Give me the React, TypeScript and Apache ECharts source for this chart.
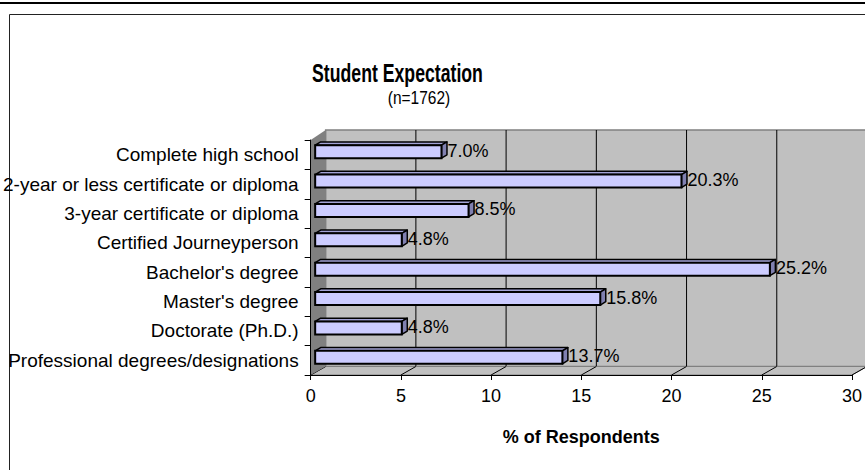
import React, { useEffect, useRef } from 'react';
import * as echarts from 'echarts';

const categories = [
  'Complete high school',
  '2-year or less certificate or diploma',
  '3-year certificate or diploma',
  'Certified Journeyperson',
  "Bachelor's degree",
  "Master's degree",
  'Doctorate (Ph.D.)',
  'Professional degrees/designations',
];
const values = [7.0, 20.3, 8.5, 4.8, 25.2, 15.8, 4.8, 13.7];
const valueTicks = [0, 5, 10, 15, 20, 25, 30];
const titleText = 'Student Expectation';
const subtitleText = '(n=1762)';
const axisTitle = '% of Respondents';

const FONT = '"Liberation Sans", Arial, Helvetica, sans-serif';
const WALL_DX = 15;
const WALL_DY = -10;
const BAR_OFF_X = 4.5;
const BAR_OFF_Y = -3;
const BAR_DX = 5.5;
const BAR_DY = -3.3;

export default function App() {
  const ref = useRef<HTMLDivElement>(null);

  useEffect(() => {
    if (!ref.current) return;
    const chart = echarts.init(ref.current, undefined, { renderer: 'svg' });
    const xMin = valueTicks[0];
    const xMax = valueTicks[valueTicks.length - 1];
    const step = valueTicks[1] - valueTicks[0];

    const option: any = {
      animation: false,
      backgroundColor: '#ffffff',
      grid: { left: 310, top: 140, width: 543, height: 235, containLabel: false },
      graphic: [
        { type: 'rect', shape: { x: 0, y: 2, width: 865, height: 2 }, style: { fill: '#000' } },
        {
          type: 'rect',
          shape: { x: 9.5, y: 14.5, width: 900, height: 500 },
          style: { fill: 'none', stroke: '#222', lineWidth: 1 },
        },
        {
          type: 'text',
          x: 397.5,
          y: 73,
          scaleX: 0.68,
          style: {
            text: titleText,
            fill: '#000',
            fontSize: 26,
            fontWeight: 'bold',
            fontFamily: FONT,
            textAlign: 'center',
            textVerticalAlign: 'middle',
          },
        },
        {
          type: 'text',
          x: 419,
          y: 98,
          scaleX: 0.86,
          style: {
            text: subtitleText,
            fill: '#000',
            fontSize: 18,
            fontFamily: FONT,
            textAlign: 'center',
            textVerticalAlign: 'middle',
          },
        },
      ],
      xAxis: {
        type: 'value',
        min: xMin,
        max: xMax,
        interval: step,
        position: 'bottom',
        z: 10,
        axisLine: { show: true, lineStyle: { color: '#000', width: 1 } },
        axisTick: { show: true, length: 5, lineStyle: { color: '#000', width: 1 } },
        axisLabel: { fontSize: 18, color: '#000', margin: 12, fontFamily: FONT },
        splitLine: { show: false },
        name: axisTitle,
        nameLocation: 'middle',
        nameGap: 53,
        nameTextStyle: { fontSize: 18, fontWeight: 'bold', color: '#000', fontFamily: FONT },
      },
      yAxis: {
        type: 'category',
        data: categories,
        inverse: true,
        z: 10,
        axisLine: { show: true, lineStyle: { color: '#000', width: 1 } },
        axisTick: { show: true, length: 6, lineStyle: { color: '#000', width: 1 } },
        axisLabel: {
          fontSize: 19,
          color: '#000',
          margin: 12,
          fontFamily: FONT,
          padding: [0, 0, 7, 0],
        },
        splitLine: { show: false },
      },
      series: [
        {
          type: 'custom',
          name: 'walls',
          z: 1,
          silent: true,
          data: [[xMin, 0]],
          encode: { x: 0, y: 1 },
          renderItem: (params: any, api: any) => {
            const band = api.size([0, 1])[1];
            const first = api.coord([xMin, 0]);
            const last = api.coord([xMax, categories.length - 1]);
            const x0 = first[0];
            const x1 = last[0];
            const top = first[1] - band / 2;
            const bottom = last[1] + band / 2;
            const bottomDY = WALL_DY + 1.5;
            const children: any[] = [];
            children.push({
              type: 'rect',
              shape: {
                x: x0 + WALL_DX,
                y: top + WALL_DY,
                width: x1 - x0,
                height: bottom + bottomDY - (top + WALL_DY),
              },
              style: { fill: '#c0c0c0', stroke: '#808080', lineWidth: 1.5 },
            });
            valueTicks.forEach((v) => {
              if (v === xMin) return;
              const px = api.coord([v, 0])[0] + WALL_DX;
              children.push({
                type: 'line',
                shape: { x1: px, y1: top + WALL_DY, x2: px, y2: bottom + bottomDY },
                style: { stroke: '#000', lineWidth: 1 },
              });
            });
            children.push({
              type: 'polygon',
              shape: {
                points: [
                  [x0, bottom],
                  [x1, bottom],
                  [x1 + WALL_DX, bottom + bottomDY],
                  [x0 + WALL_DX, bottom + bottomDY],
                ],
              },
              style: { fill: '#c0c0c0', stroke: '#808080', lineWidth: 1 },
            });
            valueTicks.forEach((v) => {
              const px = api.coord([v, 0])[0];
              children.push({
                type: 'line',
                shape: { x1: px, y1: bottom, x2: px + WALL_DX, y2: bottom + bottomDY },
                style: { stroke: '#000', lineWidth: 1 },
              });
            });
            children.push({
              type: 'polygon',
              shape: {
                points: [
                  [x0, top],
                  [x0 + WALL_DX, top + WALL_DY],
                  [x0 + WALL_DX, bottom + bottomDY],
                  [x0, bottom],
                ],
              },
              style: { fill: '#808080' },
            });
            return { type: 'group', children };
          },
        },
        {
          type: 'custom',
          name: 'Student Expectation',
          z: 3,
          data: values.map((v, i) => [v, i]),
          encode: { x: 0, y: 1 },
          renderItem: (params: any, api: any) => {
            const v = api.value(0);
            const i = api.value(1);
            const end = api.coord([v, i]);
            const start = api.coord([xMin, i]);
            const band = api.size([0, 1])[1];
            const h = band * 0.44;
            const xl = start[0] + BAR_OFF_X;
            const xr = end[0] + BAR_OFF_X;
            const yc = end[1] + BAR_OFF_Y;
            const yt = yc - h / 2;
            const yb = yc + h / 2;
            return {
              type: 'group',
              children: [
                {
                  type: 'polygon',
                  shape: {
                    points: [
                      [xl, yt],
                      [xr, yt],
                      [xr + BAR_DX, yt + BAR_DY],
                      [xl + BAR_DX, yt + BAR_DY],
                    ],
                  },
                  style: { fill: '#a3a3d6', stroke: '#000', lineWidth: 1.5, lineJoin: 'round' },
                },
                {
                  type: 'polygon',
                  shape: {
                    points: [
                      [xr, yt],
                      [xr + BAR_DX, yt + BAR_DY],
                      [xr + BAR_DX, yb + BAR_DY],
                      [xr, yb],
                    ],
                  },
                  style: { fill: '#8080b0', stroke: '#000', lineWidth: 1.5, lineJoin: 'round' },
                },
                {
                  type: 'rect',
                  shape: { x: xl, y: yt, width: xr - xl, height: yb - yt },
                  style: { fill: '#ccccff', stroke: '#000', lineWidth: 2 },
                },
                {
                  type: 'text',
                  x: xr + BAR_DX + 0.5,
                  y: yc - 1,
                  style: {
                    text: v.toFixed(1) + '%',
                    fill: '#000',
                    fontSize: 18,
                    fontFamily: FONT,
                    textAlign: 'left',
                    textVerticalAlign: 'middle',
                  },
                },
              ],
            };
          },
        },
      ],
    };

    chart.setOption(option);
    return () => {
      chart.dispose();
    };
  }, []);

  return (
    <div
      ref={ref}
      style={{ position: 'absolute', left: 0, top: 0, width: 865, height: 470, background: '#fff' }}
    />
  );
}
